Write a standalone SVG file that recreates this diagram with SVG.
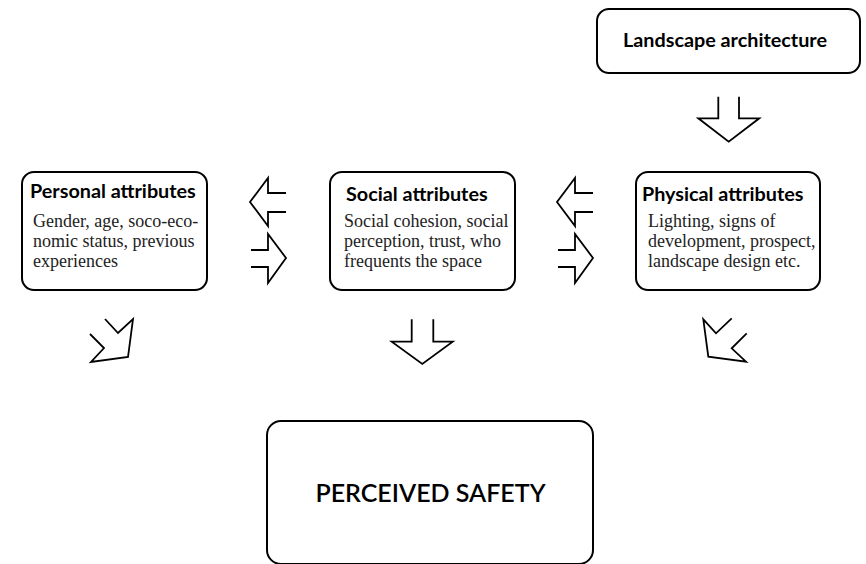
<svg xmlns="http://www.w3.org/2000/svg" width="866" height="564" viewBox="0 0 866 564">
<style>
.box{fill:#fff;stroke:#000;stroke-width:2}
.title{font-family:Lato,"Liberation Sans",sans-serif;font-weight:bold;font-size:19.8px;fill:#000}
.body{font-family:"Liberation Serif","DejaVu Serif",serif;font-size:18px;fill:#222}
.big{font-family:Lato,"Liberation Sans",sans-serif;font-weight:600;font-size:25px;fill:#000}
.arr{fill:none;stroke:#000;stroke-width:1.8;stroke-linejoin:miter}
</style>
<rect width="866" height="564" fill="#fff"/>
<g id="landscape">
<rect class="box" x="597" y="9" width="263" height="64" rx="12"/>
<text class="title" x="725" y="47" text-anchor="middle">Landscape architecture</text>
</g>
<g id="personal">
<rect class="box" x="22" y="172" width="185" height="118" rx="12"/>
<text class="title" x="30" y="198">Personal attributes</text>
<text class="body" x="33" y="227">Gender, age, soco-eco-</text>
<text class="body" x="33" y="247">nomic status, previous</text>
<text class="body" x="33" y="267">experiences</text>
</g>
<g id="social">
<rect class="box" x="330" y="172" width="185" height="118" rx="12"/>
<text class="title" x="346" y="201">Social attributes</text>
<text class="body" x="344" y="227">Social cohesion, social</text>
<text class="body" x="344" y="247">perception, trust, who</text>
<text class="body" x="344" y="267">frequents the space</text>
</g>
<g id="physical">
<rect class="box" x="636" y="172" width="184" height="118" rx="12"/>
<text class="title" x="642" y="201">Physical attributes</text>
<text class="body" x="648" y="227">Lighting, signs of</text>
<text class="body" x="648" y="247">development, prospect,</text>
<text class="body" x="648" y="267">landscape design etc.</text>
</g>
<g id="perceived">
<rect class="box" x="267" y="421" width="326" height="143" rx="14"/>
<text class="big" x="430.5" y="502" text-anchor="middle">PERCEIVED SAFETY</text>
</g>
<g id="connectors">
<path class="arr" d="M718.3,96.7 V118.3 H698.3 L728.7,141.7 L759.3,118.3 H739 V96.7"/>
<path class="arr" d="M286,193 H268 V178 L250,202 L268,226 V212 H286"/>
<path class="arr" d="M251,250 H268 V234 L286,258 L268,283 V267 H251"/>
<path class="arr" d="M593,193 H575 V178 L557,202 L575,226 V212 H593"/>
<path class="arr" d="M558,250 H575 V234 L593,258 L575,283 V267 H558"/>
<path class="arr" d="M411.7,319.3 V341.7 H391.7 L422.3,364 L452.7,341.7 H433.3 V319.3"/>
<path class="arr" d="M105,319 L118,333 L133,319 L128,357 L91,362 L104,348 L90,334"/>
<path class="arr" d="M731.7,318.3 L716,333.3 L703.3,319.3 L708.3,356.7 L746,361.7 L731.7,348.3 L746.7,333.3"/>
</g>
</svg>
